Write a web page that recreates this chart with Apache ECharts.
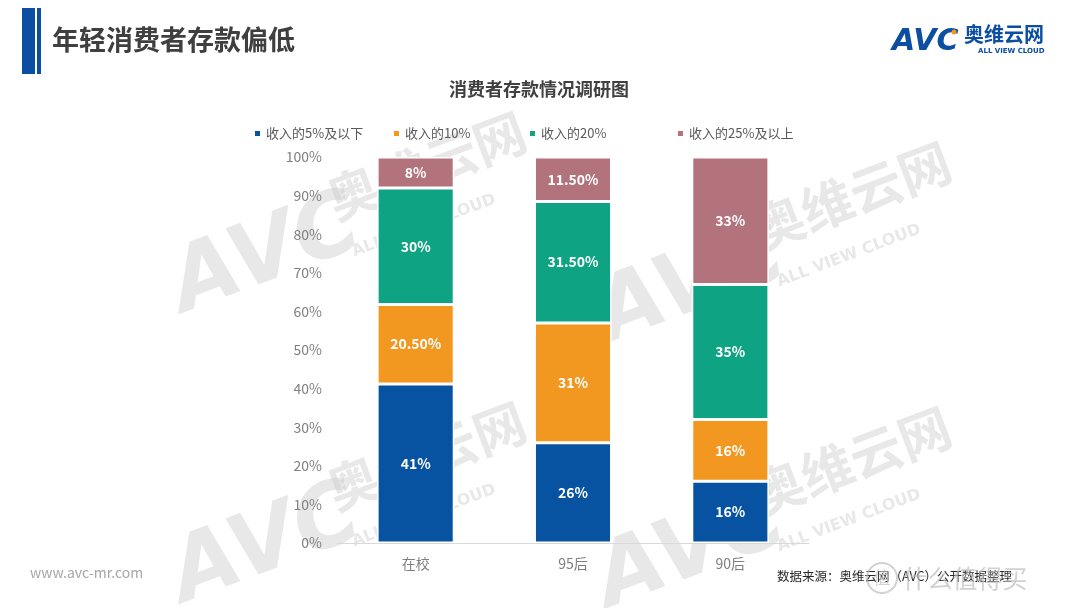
<!DOCTYPE html>
<html><head><meta charset="utf-8">
<script src="https://cdn.jsdelivr.net/npm/echarts@6/dist/echarts.min.js"></script>
<style>html,body{margin:0;padding:0;background:#fff}#c{width:1080px;height:608px}</style>
</head><body><div id="c"></div>
<script>
const categories = ['在校', '95后', '90后'];
const seriesNames = ['收入的5%及以下', '收入的10%', '收入的20%', '收入的25%及以上'];
const s5 = [41, 26, 16];
const s10 = [20.5, 31, 16];
const s20 = [30, 31.5, 35];
const s25 = [8, 11.5, 33];
const yTicks = ['0%', '10%', '20%', '30%', '40%', '50%', '60%', '70%', '80%', '90%', '100%'];
const colors = ['#0753A2', '#F2971F', '#0EA483', '#B2737C'];

const raw = [s5, s10, s20, s25];
const totals = categories.map((_, i) => raw.reduce((a, s) => a + s[i], 0));
const fmt = v => (Number.isInteger(v) ? v : v.toFixed(2)) + '%';
const FONT = '"Noto Sans CJK SC", "Noto Sans", sans-serif';

const series = raw.map((arr, k) => ({
  name: seriesNames[k], type: 'bar', stack: 'a', barWidth: '49%',
  itemStyle: { color: colors[k], borderColor: '#fff', borderWidth: 1.5 },
  label: { show: true, position: 'inside', color: '#fff', fontSize: 14, fontWeight: 'bold', fontFamily: FONT,
    formatter: p => fmt(arr[p.dataIndex]) },
  data: arr.map((v, i) => v / totals[i] * 100), z: 5
}));

const legendLefts = [248, 387, 523, 671];
const legends = seriesNames.map((n, k) => ({
  data: [n], left: legendLefts[k], top: 122, icon: 'rect', itemWidth: 7, itemHeight: 7, itemGap: 4,
  textStyle: { color: '#595959', fontSize: 13, fontFamily: FONT }, selectedMode: false
}));

const WM = 'rgba(200,200,200,0.42)';
function wm(x, y, rot) {
  return [
    { type: 'text', x: x, y: y, rotation: rot, z: 0, style: { text: 'AVC', fontSize: 88, fontWeight: 'bold', fontStyle: 'italic', fill: WM, fontFamily: 'DejaVu Sans' } },
    { type: 'text', x: x + 160, y: y - 72, rotation: rot, z: 0, style: { text: '奥维云网', fontSize: 52, fontWeight: 'bold', fill: WM, fontFamily: FONT } },
    { type: 'text', x: x + 190, y: y - 5, rotation: rot, z: 0, style: { text: 'ALL VIEW CLOUD', fontSize: 16, fontWeight: 'bold', fill: WM, fontFamily: 'DejaVu Sans' } }
  ];
}

const graphic = [
  { type: 'rect', shape: { x: 22, y: 8, width: 13, height: 66 }, style: { fill: '#0B4EA2' } },
  { type: 'rect', shape: { x: 37, y: 8, width: 4, height: 66 }, style: { fill: '#0B4EA2' } },
  { type: 'text', x: 52, y: 40, style: { text: '年轻消费者存款偏低', fontSize: 27, fontWeight: 'bold', fill: '#3F3F3F', fontFamily: FONT, verticalAlign: 'middle' } },
  { type: 'text', x: 892, y: 42, style: { text: 'AVC', fontSize: 30, fontWeight: 'bold', fontStyle: 'italic', fill: '#0B4EA2', fontFamily: 'DejaVu Sans', verticalAlign: 'middle' } },
  { type: 'circle', shape: { cx: 954, cy: 32, r: 2.5 }, style: { fill: '#F2971F' } },
  { type: 'text', x: 964, y: 34, style: { text: '奥维云网', fontSize: 20, fontWeight: 'bold', fill: '#0B4EA2', fontFamily: FONT, verticalAlign: 'middle' } },
  { type: 'text', x: 978, y: 51, style: { text: 'ALL VIEW CLOUD', fontSize: 7, fontWeight: 'bold', fill: '#0B4EA2', fontFamily: 'DejaVu Sans', verticalAlign: 'middle' } },
  { type: 'text', x: 539, y: 89, style: { text: '消费者存款情况调研图', fontSize: 18, fontWeight: 'bold', fill: '#404040', fontFamily: FONT, align: 'center', verticalAlign: 'middle' } },
  { type: 'text', x: 30, y: 573, style: { text: 'www.avc-mr.com', fontSize: 14, fill: '#A6A6A6', fontFamily: FONT, verticalAlign: 'middle' } },
  { type: 'text', x: 777, y: 576, z: 10, style: { text: '数据来源：奥维云网（AVC）公开数据整理', fontSize: 12.5, fill: '#262626', fontFamily: FONT, verticalAlign: 'middle' } },
  { type: 'text', x: 965, y: 578, z: 11, style: { text: '什么值得买', fontSize: 25, fill: 'rgba(190,190,190,0.7)', fontFamily: FONT, align: 'center', verticalAlign: 'middle' } },
  { type: 'circle', shape: { cx: 882, cy: 578, r: 15 }, z: 11, style: { fill: 'none', stroke: 'rgba(190,190,190,0.7)', lineWidth: 2 } },
  { type: 'text', x: 882, y: 578, z: 11, style: { text: '值', fontSize: 17, fill: 'rgba(190,190,190,0.7)', fontFamily: FONT, align: 'center', verticalAlign: 'middle' } }
].concat(wm(160, 250, 0.36), wm(160, 540, 0.36), wm(585, 280, 0.36), wm(585, 545, 0.36));

const chart = echarts.init(document.getElementById('c'), null, { renderer: 'canvas' });
chart.setOption({
  animation: false,
  backgroundColor: '#fff',
  textStyle: { fontFamily: FONT },
  grid: { left: 337, right: 271, top: 157, bottom: 65 },
  legend: legends,
  xAxis: { type: 'category', data: categories,
    axisLine: { lineStyle: { color: '#D9D9D9' } }, axisTick: { show: false },
    axisLabel: { color: '#7F7F7F', fontSize: 14, margin: 14, fontFamily: FONT } },
  yAxis: { type: 'value', min: 0, max: 100, interval: 10,
    axisLine: { show: false }, axisTick: { show: false }, splitLine: { show: false },
    axisLabel: { color: '#7F7F7F', fontSize: 14, margin: 15, fontFamily: FONT, formatter: (v) => yTicks[Math.round(v / 10)] } },
  series: series,
  graphic: graphic
});
</script></body></html>
